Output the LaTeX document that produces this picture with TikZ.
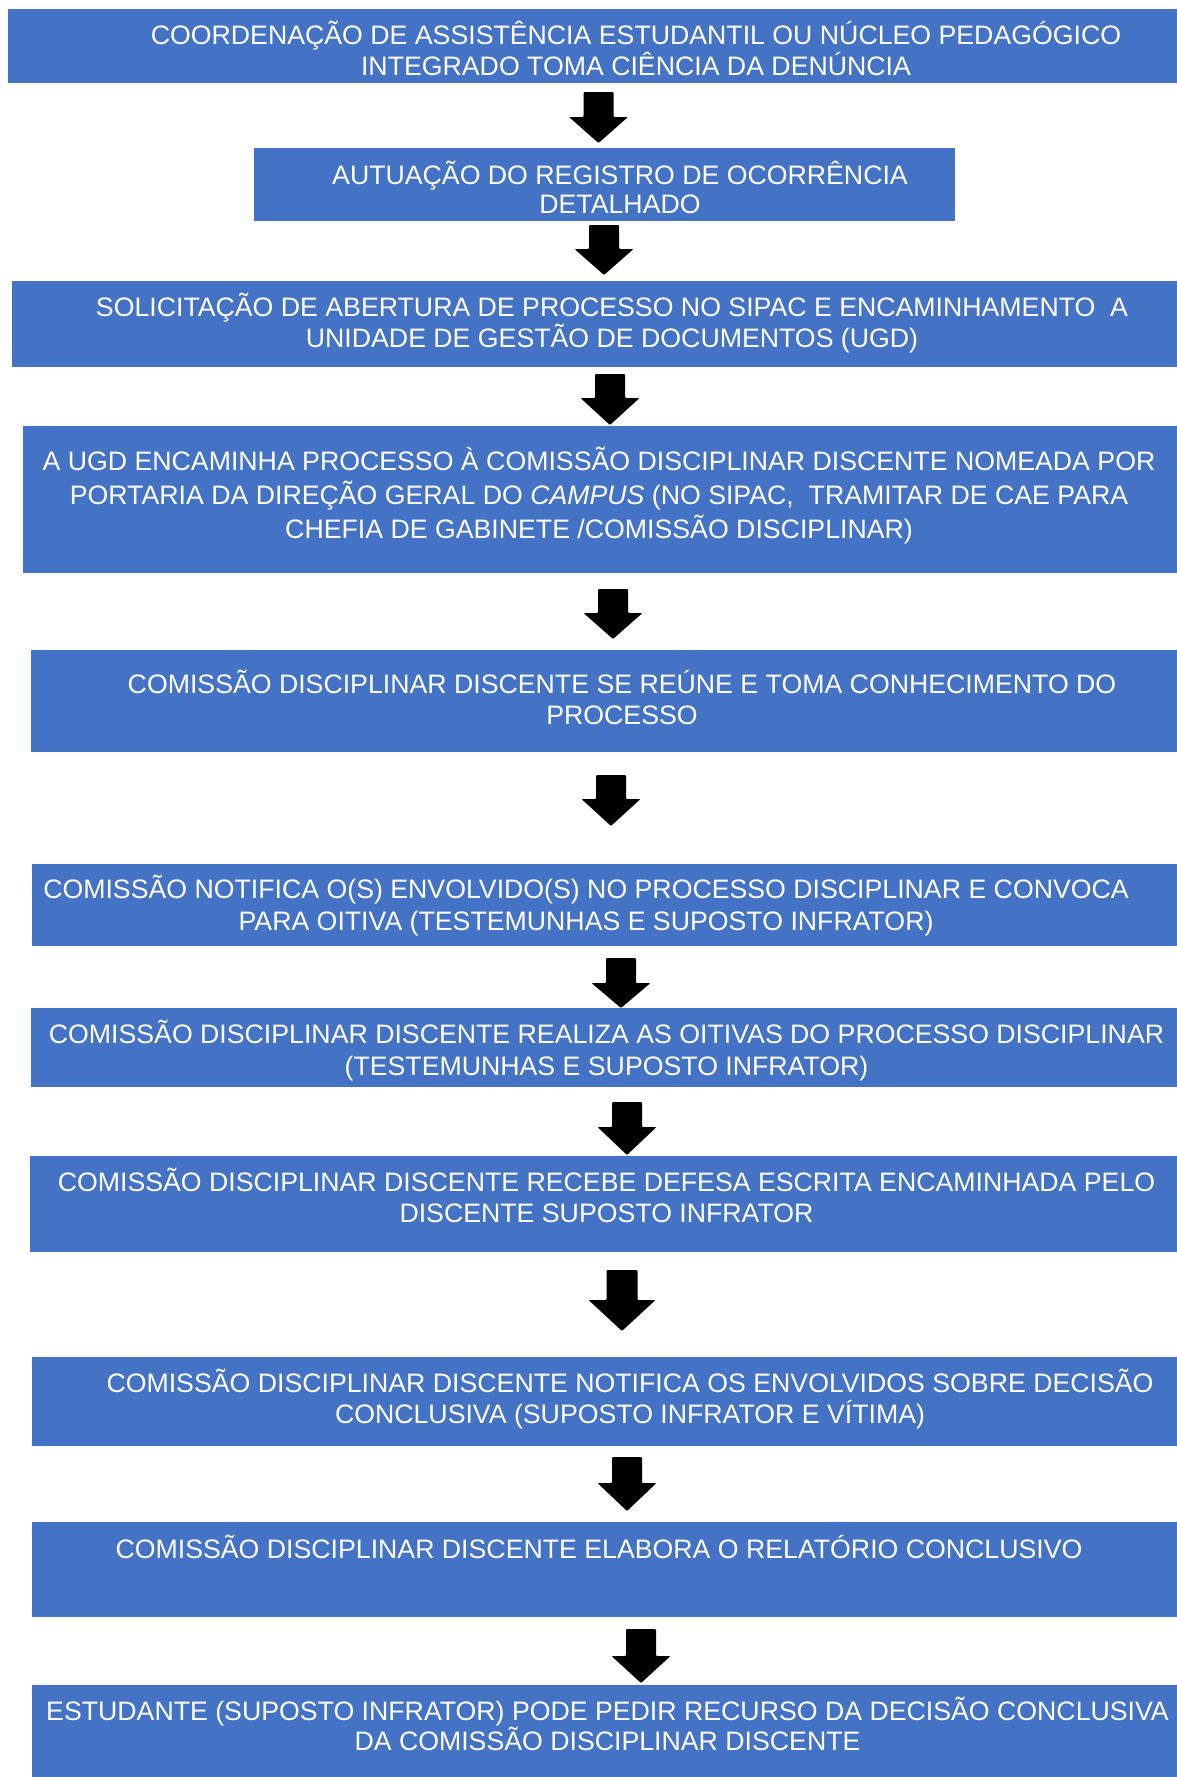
\documentclass[tikz,border=0pt]{standalone}
\usepackage{fontspec}
\setmainfont{Liberation Sans}
\definecolor{boxblue}{RGB}{68,114,196}
\newcommand\blkarrow[6]{% cx, top, neck, tip, shaft half width, head half width
  \fill[black, rounded corners=1pt] ({#1-#5},#2) -- ({#1+#5},#2) -- ({#1+#5},#3) -- ({#1+#6},#3) -- (#1,#4) -- ({#1-#6},#3) -- ({#1-#5},#3) -- cycle;}
\tikzset{
  stepfill/.style={fill=boxblue},
  steptext/.style={text=white, align=center, inner sep=0pt, anchor=base,
    font=\fontsize{26.7}{30.5}\selectfont},
}
\begin{document}
\begin{tikzpicture}[x=1pt,y=-1pt]
\useasboundingbox (0,0) rectangle (1177,1777);
% boxes
\path[stepfill] (8,9) rectangle (1177,83);
\path[stepfill] (254,148) rectangle (955,221);
\path[stepfill] (12,281) rectangle (1177,367);
\path[stepfill] (23,426) rectangle (1177,573);
\path[stepfill] (31,650) rectangle (1177,752);
\path[stepfill] (32,864) rectangle (1177,946);
\path[stepfill] (31,1008) rectangle (1177,1087);
\path[stepfill] (30,1156) rectangle (1177,1252);
\path[stepfill] (32,1357) rectangle (1177,1446);
\path[stepfill] (32,1522) rectangle (1177,1617);
\path[stepfill] (32,1685) rectangle (1177,1777);
% texts (anchor base = baseline of last line)
\node[steptext] (t1) at (636,75) {COORDENAÇÃO DE ASSISTÊNCIA ESTUDANTIL OU NÚCLEO PEDAGÓGICO\\INTEGRADO TOMA CIÊNCIA DA DENÚNCIA};
\node[steptext, font=\fontsize{26.7}{29}\selectfont] (t2) at (620,213) {AUTUAÇÃO DO REGISTRO DE OCORRÊNCIA\\DETALHADO};
\node[steptext] (t3) at (612,347) {SOLICITAÇÃO DE ABERTURA DE PROCESSO NO SIPAC E ENCAMINHAMENTO~ A\\UNIDADE DE GESTÃO DE DOCUMENTOS (UGD)};
\node[steptext, font=\fontsize{26.7}{34}\selectfont] (t4) at (599,538) {A UGD ENCAMINHA PROCESSO À COMISSÃO DISCIPLINAR DISCENTE NOMEADA POR\\PORTARIA DA DIREÇÃO GERAL DO \textit{CAMPUS} (NO SIPAC,~ TRAMITAR DE CAE PARA\\CHEFIA DE GABINETE /COMISSÃO DISCIPLINAR)};
\node[steptext] (t5) at (622,724) {COMISSÃO DISCIPLINAR DISCENTE SE REÚNE E TOMA CONHECIMENTO DO\\PROCESSO};
\node[steptext, font=\fontsize{26.7}{32}\selectfont] (t6) at (586,930) {COMISSÃO NOTIFICA O(S) ENVOLVIDO(S) NO PROCESSO DISCIPLINAR E CONVOCA\\PARA OITIVA (TESTEMUNHAS E SUPOSTO INFRATOR)};
\node[steptext, font=\fontsize{26.7}{32}\selectfont] (t7) at (606.5,1075) {COMISSÃO DISCIPLINAR DISCENTE REALIZA AS OITIVAS DO PROCESSO DISCIPLINAR\\(TESTEMUNHAS E SUPOSTO INFRATOR)};
\node[steptext] (t8) at (606.5,1222) {COMISSÃO DISCIPLINAR DISCENTE RECEBE DEFESA ESCRITA ENCAMINHADA PELO\\DISCENTE SUPOSTO INFRATOR};
\node[steptext] (t9) at (630,1423) {COMISSÃO DISCIPLINAR DISCENTE NOTIFICA OS ENVOLVIDOS SOBRE DECISÃO\\CONCLUSIVA (SUPOSTO INFRATOR E VÍTIMA)};
\node[steptext] (t10) at (599,1558) {COMISSÃO DISCIPLINAR DISCENTE ELABORA O RELATÓRIO CONCLUSIVO};
\node[steptext, font=\fontsize{26.7}{29.5}\selectfont] (t11) at (607.5,1750) {ESTUDANTE (SUPOSTO INFRATOR) PODE PEDIR RECURSO DA DECISÃO CONCLUSIVA\\DA COMISSÃO DISCIPLINAR DISCENTE};
% block arrows
\blkarrow{598.5}{92}{117}{143}{15}{29.5}
\blkarrow{604}{225}{249}{275}{15}{29.5}
\blkarrow{610}{374}{398}{425}{15}{29.5}
\blkarrow{613}{589}{613}{639}{15}{29.5}
\blkarrow{611}{775}{799}{826}{15}{29.5}
\blkarrow{621}{958}{983}{1008}{15}{29.5}
\blkarrow{627}{1102}{1127}{1155}{15}{29.5}
\blkarrow{622}{1270}{1300}{1331}{15.5}{33.5}
\blkarrow{627}{1457}{1483}{1511}{15}{29.5}
\blkarrow{641}{1629}{1656}{1683}{15}{29.5}
\end{tikzpicture}
\end{document}
